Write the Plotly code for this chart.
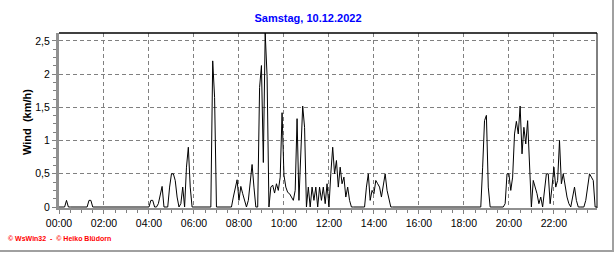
import pandas as pd
import plotly.graph_objects as go

# Wind speed (km/h), 5-minute values
wind_00_06 = [
    0, 0, 0, 0, 0.1, 0, 0, 0, 0, 0, 0, 0,
    0, 0, 0, 0, 0.1, 0.1, 0, 0, 0, 0, 0, 0,
    0, 0, 0, 0, 0, 0, 0, 0, 0, 0, 0, 0,
    0, 0, 0, 0, 0, 0, 0, 0, 0, 0, 0, 0,
    0, 0.1, 0.1, 0, 0, 0.05, 0.2, 0.31, 0, 0, 0, 0.3,
    0.5, 0.5, 0.4, 0.15, 0, 0.05, 0.3, 0, 0.6, 0.9, 0.3, 0,
]
wind_06_12 = [
    0, 0, 0, 0, 0, 0, 0, 0, 0, 0, 2.2, 1.65,
    0, 0, 0, 0, 0, 0, 0, 0, 0, 0.15, 0.3, 0.41,
    0.1, 0.31, 0.2, 0.1, 0, 0.1, 0.4, 0.64, 0.3, 0, 0, 1.8,
    2.13, 0.67, 2.62, 1.97, 0, 0.3, 0.33, 0.21, 0.35, 0.25, 0.45, 1.42,
    0.48, 0.3, 0.22, 0.2, 0.15, 0.1, 0.25, 1.33, 0.1, 0.9, 1.52, 1.2,
    0, 0.3, 0, 0.3, 0.1, 0.3, 0, 0.3, 0.1, 0.3, 0.05, 0.35,
]
wind_12_18 = [
    0, 0.5, 0.9, 0.5, 0.7, 0.3, 0.6, 0.35, 0.45, 0.15, 0.3, 0.1,
    0, 0, 0, 0, 0, 0, 0, 0, 0.3, 0.5, 0.1, 0.25,
    0.2, 0.4, 0.35, 0.3, 0.15, 0.35, 0.5, 0.25, 0.1, 0, 0, 0,
    0, 0, 0, 0, 0, 0, 0, 0, 0, 0, 0, 0,
    0, 0, 0, 0, 0, 0, 0, 0, 0, 0, 0, 0,
    0, 0, 0, 0, 0, 0, 0, 0, 0, 0, 0, 0,
]
wind_18_24 = [
    0, 0, 0, 0, 0, 0, 0, 0, 0, 0, 0.6, 1.3,
    1.38, 0.3, 0, 0, 0, 0, 0, 0, 0, 0, 0.05, 0.5,
    0.5, 0.25, 0.45, 1.1, 1.29, 1.1, 1.52, 0.8, 1.2, 0.95, 1.3, 0.6,
    0, 0.4, 0.3, 0.2, 0.05, 0.15, 0, 0.3, 0.5, 0.5, 0.05, 0.3,
    0.6, 0.3, 0.4, 1.0, 0.35, 0.5, 0.3, 0.15, 0.05, 0, 0.15, 0.3,
    0.1, 0, 0, 0, 0, 0.1, 0.35, 0.5, 0.45, 0.4, 0, 0,
]
wind = wind_00_06 + wind_06_12 + wind_12_18 + wind_18_24
times = pd.date_range("2022-12-10 00:00", periods=len(wind), freq="5min")

title_text = "Samstag, 10.12.2022"
y_title = "Wind\u00a0 (km/h)"
footer_text = "\u00a9 WsWin32  -  \u00a9 Heiko Bl\u00fcdorn"
y_ticks = [0, 0.5, 1, 1.5, 2, 2.5]

FONT = "Liberation Sans, Arial, sans-serif"

fig = go.Figure()
fig.add_trace(go.Scatter(
    x=times, y=wind, mode="lines",
    line=dict(color="black", width=1),
    hoverinfo="skip", showlegend=False,
))

fig.update_layout(
    width=616, height=253,
    margin=dict(l=59, r=19, t=33, b=45, pad=0),
    paper_bgcolor="white", plot_bgcolor="white",
    separators=",.",
    font=dict(family=FONT, size=10, color="black"),
    title=dict(text=f"<b>{title_text}</b>", x=0.5, xref="container", xanchor="center",
               y=235 / 253, yref="container", yanchor="middle",
               font=dict(family=FONT, size=11, color="#0000ff")),
    showlegend=False,
)

fig.update_xaxes(
    range=[times[0], times[-1]],
    tickformat="%H:%M", dtick=7200000, tick0="2022-12-10 00:00",
    showgrid=True, gridcolor="#808080", gridwidth=1, griddash="4px,3px",
    showline=True, linecolor="#909090", linewidth=2,
    ticks="outside", ticklen=4, tickcolor="#808080", tickwidth=1,
    minor=dict(dtick=1800000, ticks="outside", ticklen=3, tickcolor="#808080", showgrid=False),
    zeroline=False, layer="below traces",
    tickfont=dict(family=FONT, size=10.5, color="black"),
    fixedrange=True,
)
fig.update_yaxes(
    range=[-0.015, 2.62],
    tickvals=y_ticks,
    showgrid=True, gridcolor="#808080", gridwidth=1, griddash="4px,3px",
    showline=True, linecolor="#909090", linewidth=3,
    ticks="outside", ticklen=4, tickcolor="#808080", tickwidth=1,
    minor=dict(dtick=0.125, ticks="outside", ticklen=3, tickcolor="#808080", showgrid=False),
    zeroline=False, layer="below traces",
    tickfont=dict(family=FONT, size=10.5, color="black"),
    fixedrange=True,
)

# plot frame (top / right in black)
fig.add_shape(type="line", xref="paper", yref="paper", x0=0, x1=1, y0=1, y1=1,
              line=dict(color="black", width=1.5))
fig.add_shape(type="line", xref="paper", yref="paper", x0=1, x1=1, y0=0, y1=1,
              line=dict(color="black", width=1))
# outer image border (right / bottom)
fig.add_shape(type="line", xref="paper", yref="paper",
              x0=(613 - 59) / 538, x1=(613 - 59) / 538, y0=(208 - 252) / 175, y1=208 / 175,
              line=dict(color="#a0a0a0", width=2))
fig.add_shape(type="line", xref="paper", yref="paper",
              x0=-59 / 538, x1=(613 - 59) / 538, y0=(208 - 251) / 175, y1=(208 - 251) / 175,
              line=dict(color="#a0a0a0", width=2))

fig.add_annotation(text=f"<b>{y_title}</b>", textangle=-90, showarrow=False,
                   xref="paper", yref="paper", x=(27 - 59) / 538, y=(208 - 122) / 175,
                   xanchor="center", yanchor="middle",
                   font=dict(family=FONT, size=11, color="black"))
fig.add_annotation(text=f"<b>{footer_text}</b>", showarrow=False,
                   xref="paper", yref="paper", x=(6 - 59) / 538, y=(208 - 238) / 175,
                   xanchor="left", yanchor="middle",
                   font=dict(family=FONT, size=7, color="#ff0000"))

fig.write_html("out.html", config={"displayModeBar": False})
